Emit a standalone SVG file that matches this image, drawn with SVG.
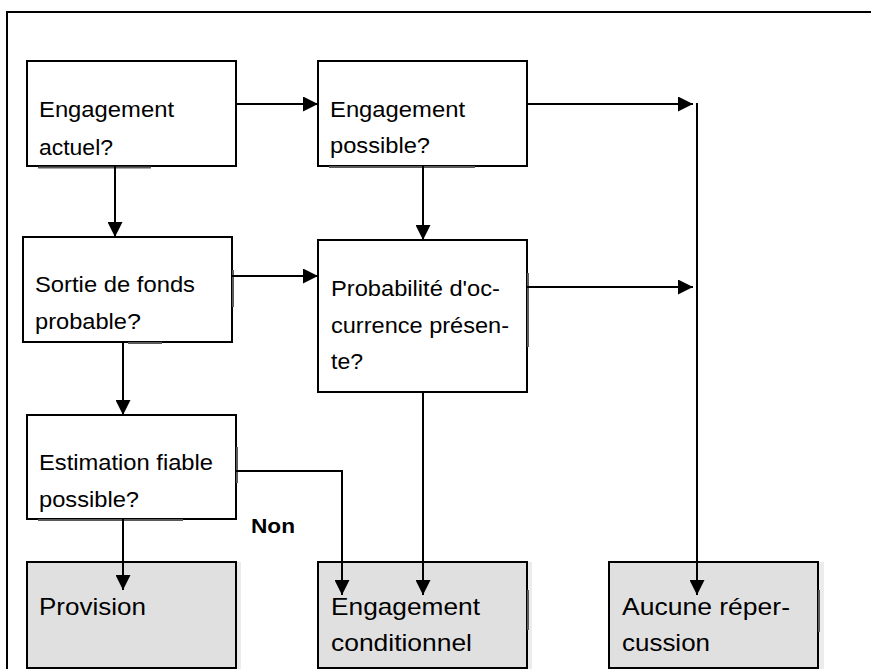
<svg xmlns="http://www.w3.org/2000/svg" width="871" height="669" viewBox="0 0 871 669">
  <style>
    .box { fill: #ffffff; stroke: #000000; stroke-width: 2; }
    .gbox { fill: #e0e0e0; stroke: #000000; stroke-width: 2; }
    .shadow { fill: #ececec; stroke: none; }
    .art { stroke: #5a5a5a; stroke-width: 2; fill: none; }
    .t { font-family: "Liberation Sans", Arial, sans-serif; font-size: 22px; fill: #000000; }
    .tg { font-family: "Liberation Sans", Arial, sans-serif; font-size: 24px; fill: #000000; }
    .lbl { font-family: "Liberation Sans", Arial, sans-serif; font-size: 20px; font-weight: bold; fill: #000000; }
    .c { stroke: #000000; stroke-width: 2; fill: none; }
    .ca { stroke: #000000; stroke-width: 2; fill: none; marker-end: url(#ah); }
  </style>
  <defs>
    <marker id="ah" markerUnits="userSpaceOnUse" markerWidth="15" markerHeight="15" refX="15" refY="7.5" orient="auto">
      <path d="M0,0 L15,7.5 L0,15 Z" fill="#000000"/>
    </marker>
  </defs>

  <rect width="871" height="669" fill="#ffffff"/>

  <!-- outer frame -->
  <path d="M7,670 L7,12 L872,12" class="c"/>

  <!-- nodes -->
  <g id="n-engagement-actuel">
    <rect x="27" y="61" width="209" height="105" class="box"/>
    <line x1="38" y1="167.5" x2="151" y2="167.5" class="art"/>
    <text class="t" x="39" y="117" textLength="135" lengthAdjust="spacingAndGlyphs">Engagement</text>
    <text class="t" x="39" y="155" textLength="74" lengthAdjust="spacingAndGlyphs">actuel?</text>
  </g>

  <g id="n-engagement-possible">
    <rect x="318" y="61" width="209" height="105" class="box"/>
    <line x1="329" y1="167" x2="475" y2="167" class="art"/>
    <text class="t" x="330" y="117" textLength="135" lengthAdjust="spacingAndGlyphs">Engagement</text>
    <text class="t" x="330" y="153" textLength="100" lengthAdjust="spacingAndGlyphs">possible?</text>
  </g>

  <g id="n-sortie-fonds">
    <rect x="23" y="237" width="209" height="105" class="box"/>
    <line x1="233" y1="270" x2="233" y2="307" class="art"/>
    <line x1="128" y1="343" x2="162" y2="343" class="art"/>
    <text class="t" x="35" y="292" textLength="160" lengthAdjust="spacingAndGlyphs">Sortie de fonds</text>
    <text class="t" x="35" y="329" textLength="92" lengthAdjust="spacingAndGlyphs">probable</text>
    <text class="t" x="127" y="329" font-size="27" textLength="14" lengthAdjust="spacingAndGlyphs">?</text>
  </g>

  <g id="n-probabilite">
    <rect x="318" y="240" width="209" height="152" class="box"/>
    <line x1="528" y1="273" x2="528" y2="347" class="art"/>
    <text class="t" x="331" y="296" textLength="169" lengthAdjust="spacingAndGlyphs">Probabilité d'oc-</text>
    <text class="t" x="331" y="333" textLength="178" lengthAdjust="spacingAndGlyphs">currence présen-</text>
    <text class="t" x="331" y="369" textLength="32" lengthAdjust="spacingAndGlyphs">te?</text>
  </g>

  <g id="n-estimation">
    <rect x="27" y="415" width="209" height="104" class="box"/>
    <line x1="237" y1="447" x2="237" y2="483" class="art"/>
    <line x1="38" y1="520" x2="183" y2="520" class="art"/>
    <text class="t" x="39" y="470" textLength="174" lengthAdjust="spacingAndGlyphs">Estimation fiable</text>
    <text class="t" x="39" y="507" textLength="100" lengthAdjust="spacingAndGlyphs">possible?</text>
  </g>

  <g id="n-provision">
    <rect x="236" y="562" width="5" height="107" class="shadow"/>
    <rect x="27" y="562" width="209" height="106" class="gbox"/>
    <text class="tg" x="39" y="615" textLength="107" lengthAdjust="spacingAndGlyphs">Provision</text>
  </g>

  <g id="n-engagement-conditionnel">
    <rect x="527" y="562" width="5" height="107" class="shadow"/>
    <rect x="318" y="562" width="209" height="106" class="gbox"/>
    <line x1="528" y1="590" x2="528" y2="630" class="art"/>
    <text class="tg" x="331" y="615" textLength="149" lengthAdjust="spacingAndGlyphs">Engagement</text>
    <text class="tg" x="331" y="651" textLength="141" lengthAdjust="spacingAndGlyphs">conditionnel</text>
  </g>

  <g id="n-aucune-repercussion">
    <rect x="818" y="562" width="6" height="107" class="shadow"/>
    <rect x="609" y="562" width="209" height="106" class="gbox"/>
    <line x1="819" y1="590" x2="819" y2="632" class="art"/>
    <text class="tg" x="622" y="615" textLength="168" lengthAdjust="spacingAndGlyphs">Aucune réper-</text>
    <text class="tg" x="622" y="651" textLength="88" lengthAdjust="spacingAndGlyphs">cussion</text>
  </g>

  <!-- label -->
  <g id="label-non">
    <text class="lbl" x="251" y="533" textLength="44" lengthAdjust="spacingAndGlyphs">Non</text>
  </g>

  <!-- connectors -->
  <g id="connectors">
    <line x1="236" y1="104" x2="318" y2="104" class="ca"/>
    <line x1="527" y1="104" x2="693" y2="104" class="ca"/>
    <line x1="697" y1="103" x2="697" y2="595" class="ca"/>
    <line x1="115" y1="166" x2="115" y2="237" class="ca"/>
    <line x1="423" y1="166" x2="423" y2="240" class="ca"/>
    <line x1="232" y1="276" x2="318" y2="276" class="ca"/>
    <line x1="527" y1="287" x2="693" y2="287" class="ca"/>
    <line x1="123" y1="342" x2="123" y2="415" class="ca"/>
    <line x1="423" y1="392" x2="423" y2="595" class="ca"/>
    <polyline points="236,471 342,471 342,595" class="ca"/>
    <line x1="123" y1="519" x2="123" y2="590" class="ca"/>
  </g>
</svg>
